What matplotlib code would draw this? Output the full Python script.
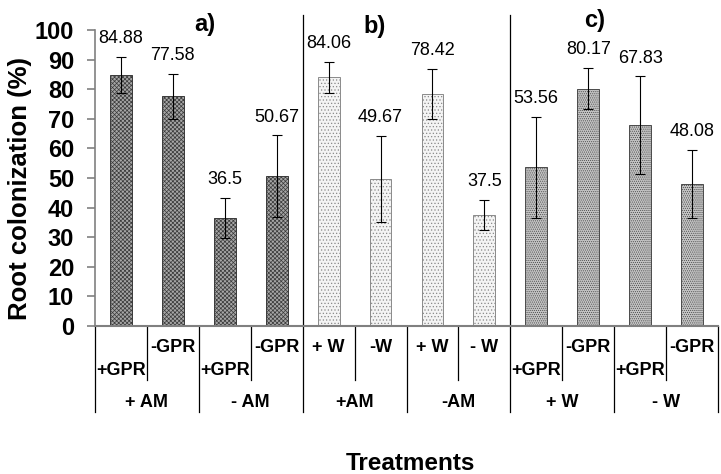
import matplotlib
matplotlib.use("Agg")
import matplotlib.pyplot as plt
import matplotlib.transforms as mtransforms

plt.rcParams['font.family'] = ['Liberation Sans', 'DejaVu Sans']
plt.rcParams['hatch.linewidth'] = 0.5

# data
sub_labels = ['+GPR', '-GPR', '+GPR', '-GPR',
              '+ W', '-W', '+ W', '- W',
              '+GPR', '-GPR', '+GPR', '-GPR']
group_labels = ['+ AM', '- AM', '+AM', '-AM', '+ W', '- W']
panel_labels = ['a)', 'b)', 'c)']
values = [84.88, 77.58, 36.5, 50.67,
          84.06, 49.67, 78.42, 37.5,
          53.56, 80.17, 67.83, 48.08]
errors = [6.0, 7.7, 6.7, 13.7,
          5.2, 14.5, 8.5, 5.0,
          17.0, 7.0, 16.5, 11.5]
value_text = ['84.88', '77.58', '36.5', '50.67',
              '84.06', '49.67', '78.42', '37.5',
              '53.56', '80.17', '67.83', '48.08']
yticks = [0, 10, 20, 30, 40, 50, 60, 70, 80, 90, 100]

# fill style per panel
panel_face = ['#a6a6a6', '#f4f4f4', '#c4c4c4']
panel_hatch = ['xxxxxxxx', '.....', '........']
panel_edge = ['#3a3a3a', '#8a8a8a', '#4a4a4a']

fig = plt.figure(figsize=(7.21, 4.74), dpi=100)
ax = fig.add_axes([95 / 721, 1 - 326 / 474, 623 / 721, 296 / 474])

n = len(values)
xs = [i + 0.5 for i in range(n)]
for i in range(n):
    p = i // 4
    ax.bar(xs[i], values[i], width=0.42, color=panel_face[p],
           edgecolor=panel_edge[p], hatch=panel_hatch[p], linewidth=0.7,
           zorder=2)
ax.errorbar(xs, values, yerr=errors, fmt='none', ecolor='black',
            elinewidth=0.8, capsize=3.5, capthick=0.8, zorder=3)

for i in range(n):
    ax.annotate(value_text[i], (xs[i], values[i] + errors[i]),
                xytext=(0, 7), textcoords='offset points',
                ha='center', va='bottom', fontsize=13)

ax.set_xlim(0, n)
ax.set_ylim(0, 100)
ax.set_yticks(yticks)
ax.set_yticklabels([str(t) for t in yticks], fontsize=17, fontweight='bold')
ax.tick_params(axis='y', direction='out', length=6, width=1.2,
               color='#808080', pad=9)
ax.set_xticks([])
for s in ['top', 'right']:
    ax.spines[s].set_visible(False)
ax.spines['left'].set_color('#808080')
ax.spines['bottom'].set_color('#808080')
ax.spines['left'].set_linewidth(1.2)
ax.spines['bottom'].set_linewidth(1.5)

trans = mtransforms.blended_transform_factory(ax.transData, ax.transAxes)

# category labels, staggered like the original
for i in range(n):
    lower = sub_labels[i].startswith('+') and 'GPR' in sub_labels[i]
    yy = -0.149 if lower else -0.074
    ax.text(xs[i], yy, sub_labels[i], transform=trans, ha='center',
            va='center', fontsize=13, fontweight='bold', clip_on=False)

for g in range(len(group_labels)):
    ax.text(2 * g + 1, -0.26, group_labels[g], transform=trans,
            ha='center', va='center', fontsize=13, fontweight='bold',
            clip_on=False)

# separators under the axis
for k in range(n + 1):
    if k % 4 == 0 and 0 < k < n:
        ymin, ymax = -0.29, 1.05
    elif k % 2 == 0:
        ymin, ymax = -0.29, 0
    else:
        ymin, ymax = -0.182, 0
    ax.plot([k, k], [ymin, ymax], transform=trans, color='black',
            linewidth=0.9, clip_on=False, zorder=1)

# panel letters
panel_pos = [(205, 24), (375, 26), (595, 21)]
for lab, (px, py) in zip(panel_labels, panel_pos):
    fig.text(px / 721, 1 - py / 474, lab, ha='center', va='center',
             fontsize=17, fontweight='bold')

fig.text(20 / 721, 1 - 188 / 474, 'Root colonization (%)', rotation=90,
         ha='center', va='center', fontsize=18.5, fontweight='bold')
fig.text(410 / 721, 1 - 464 / 474, 'Treatments', ha='center', va='center',
         fontsize=17.5, fontweight='bold')

fig.savefig('out.png', dpi=100)
